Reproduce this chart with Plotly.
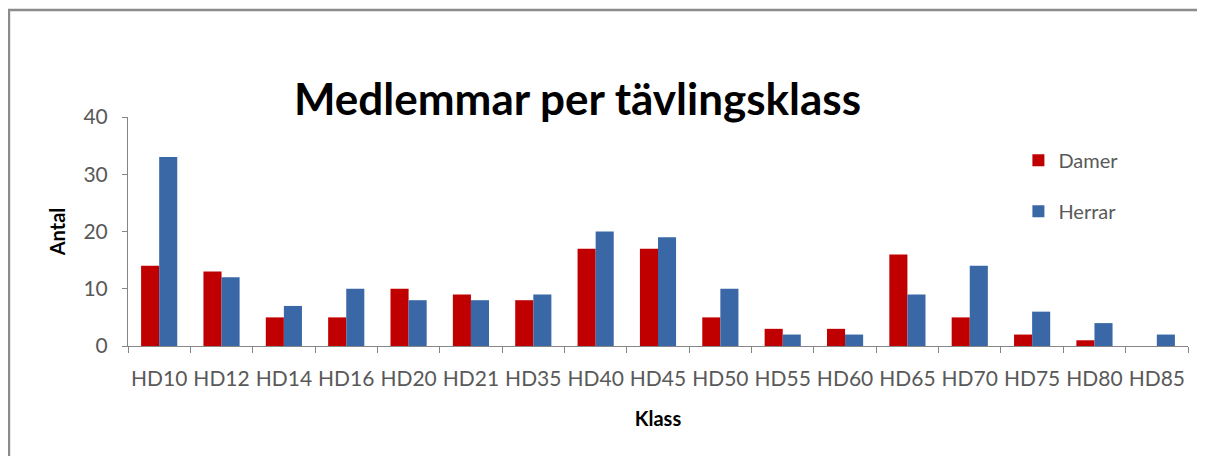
import plotly.graph_objects as go

klasser = ["HD10", "HD12", "HD14", "HD16", "HD20", "HD21", "HD35", "HD40", "HD45",
           "HD50", "HD55", "HD60", "HD65", "HD70", "HD75", "HD80", "HD85"]
damer = [14, 13, 5, 5, 10, 9, 8, 17, 17, 5, 3, 3, 16, 5, 2, 1, 0]
herrar = [33, 12, 7, 10, 8, 8, 9, 20, 19, 10, 2, 2, 9, 14, 6, 4, 2]

FONT = "Lato"
TXT = "#595959"

fig = go.Figure()
fig.add_trace(go.Bar(x=klasser, y=damer, name="Damer", marker=dict(color="#C00000", line_width=0),
                     legendgroup="d"))
fig.add_trace(go.Bar(x=klasser, y=herrar, name="Herrar", marker=dict(color="#3A68A6", line_width=0),
                     legendgroup="h"))

# outer chart frame (runs past the bottom of the picture)
fig.add_shape(type="rect", xref="paper", yref="paper",
              x0=-0.1123, x1=1.0155, y0=-0.7, y1=1.467,
              line=dict(color="#8C8C8C", width=2.5), fillcolor="rgba(0,0,0,0)", layer="below")

fig.update_layout(
    width=1205, height=456,
    margin=dict(l=120, r=25, t=109, b=118, autoexpand=False),
    barmode="group", bargap=0.42, bargroupgap=0,
    plot_bgcolor="white", paper_bgcolor="white",
    font=dict(family=FONT, color=TXT),
    title=dict(text="Medlemmar per tävlingsklass", x=0.4726, xanchor="center",
               y=0.80, yanchor="middle",
               font=dict(family=FONT, size=44, color="black", weight="bold")),
    legend=dict(x=0.840, y=0.896, xanchor="left", yanchor="top",
                font=dict(size=20, color=TXT), tracegroupgap=22,
                bgcolor="rgba(0,0,0,0)"),
    xaxis=dict(showline=True, linecolor="#868686", linewidth=1, automargin=False,
               ticks="outside", tickson="boundaries", ticklen=6, tickcolor="#868686",
               tickangle=0, tickfont=dict(size=21, color=TXT), ticklabelstandoff=14,
               title=dict(text="Klass", font=dict(size=20, color="black", weight="bold"),
                          standoff=22),
               showgrid=False),
    yaxis=dict(range=[0, 40], dtick=10, showline=True, linecolor="#868686", linewidth=1,
               ticks="outside", ticklen=5, tickcolor="#868686", automargin=False,
               tickfont=dict(size=21, color=TXT), ticklabelstandoff=10,
               title=dict(text="Antal", font=dict(size=20, color="black", weight="bold"),
                          standoff=12),
               showgrid=False, zeroline=False),
)

fig.write_html("out.html")
